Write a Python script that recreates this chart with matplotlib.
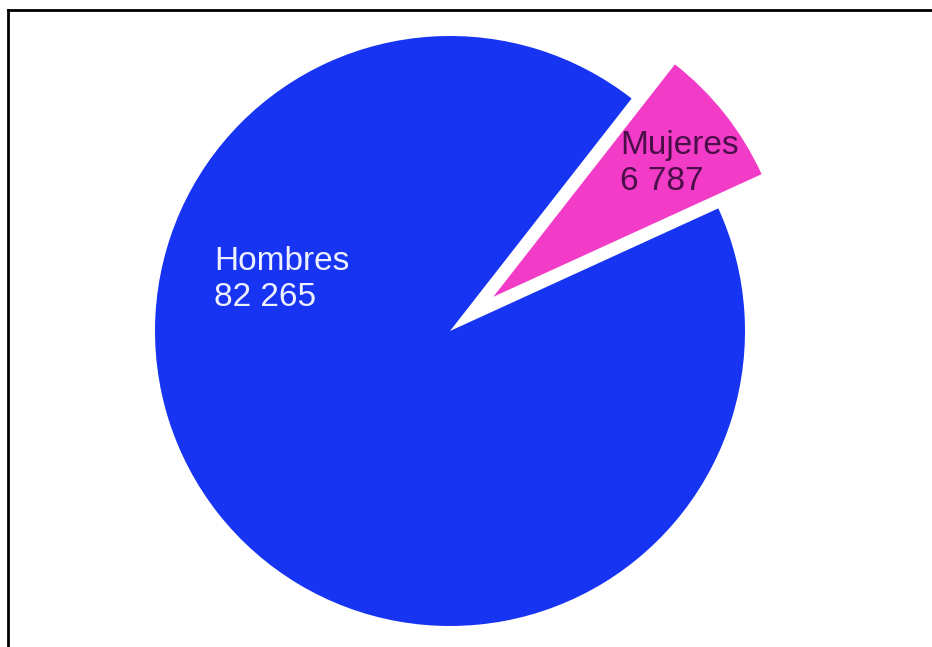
import matplotlib.pyplot as plt
from matplotlib.lines import Line2D

plt.rcParams['font.family'] = ['Liberation Sans', 'DejaVu Sans']

labels = ['Hombres', 'Mujeres']
values = [82265, 6787]
colors = ['#1634f2', '#f23cc8']
text_colors = ['#eef0ff', '#4a0e48']
explode = [0, 0.187]

W, H = 932, 647
fig = plt.figure(figsize=(W / 100, H / 100), dpi=100)
ax = fig.add_axes([0, 0, 1, 1])

# pie centre and radius in pixels
cx, cy, r = 450, 316, 295
ax.pie(values, colors=colors, explode=explode, startangle=52,
       counterclock=True, wedgeprops=dict(linewidth=0))
ax.set_xlim(-cx / r, (W - cx) / r)
ax.set_ylim(-cy / r, (H - cy) / r)
ax.axis('off')

txt_pos = [(214, 246), (620, 130)]
for lab, v, (px, py), tc in zip(labels, values, txt_pos, text_colors):
    s = f"{lab}\n{v:,}".replace(',', ' ')
    fig.text(px / W, 1 - py / H, s, ha='left', va='top', fontsize=24,
             color=tc, linespacing=1.22)

# frame lines (left and top)
fig.add_artist(Line2D([8 / W, 8 / W], [0, 1 - 10 / H], color='black', lw=2,
                      transform=fig.transFigure))
fig.add_artist(Line2D([8 / W, 1], [1 - 10 / H, 1 - 10 / H], color='black', lw=2,
                      transform=fig.transFigure))

fig.savefig('out.png', dpi=100)
